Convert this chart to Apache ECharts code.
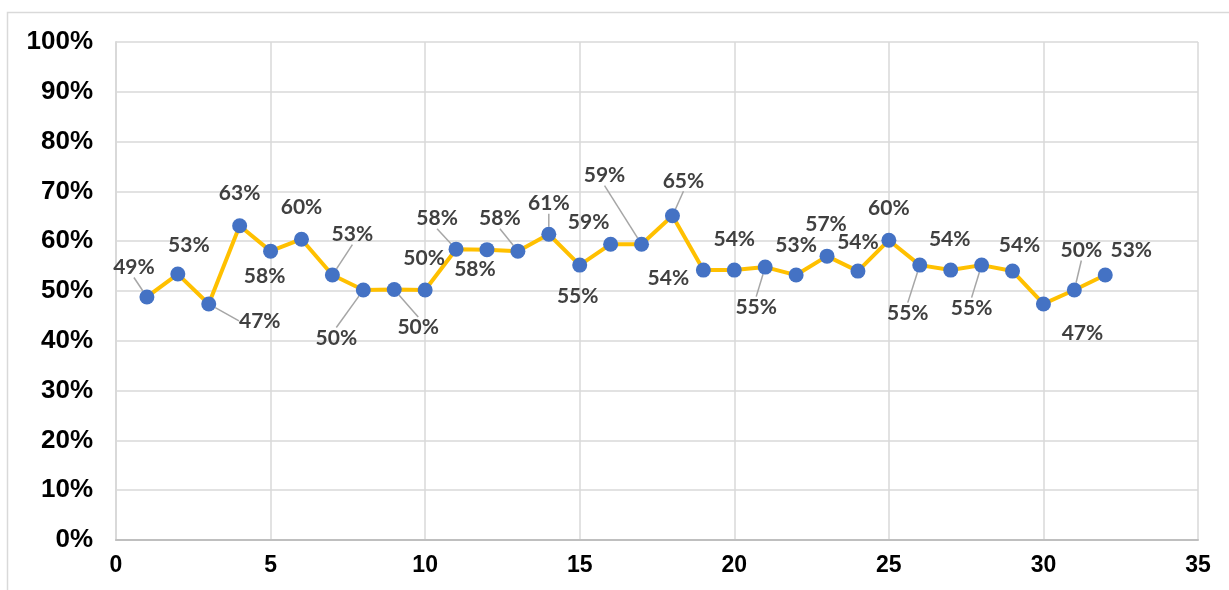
<!DOCTYPE html>
<html>
<head>
<meta charset="utf-8">
<script src="https://cdn.jsdelivr.net/npm/echarts@6/dist/echarts.min.js"></script>
<style>
  html, body { margin: 0; padding: 0; background: #ffffff; }
  #chart { width: 1229px; height: 590px; }
</style>
</head>
<body>
<div id="chart"></div>
<script>
// Sample number on the x axis
const xValues = [1, 2, 3, 4, 5, 6, 7, 8, 9, 10, 11, 12, 13, 14, 15, 16,
                 17, 18, 19, 20, 21, 22, 23, 24, 25, 26, 27, 28, 29, 30, 31, 32];
// Share per sample (fraction of 1)
const shareValues = [0.488, 0.534, 0.474, 0.631, 0.580, 0.604, 0.532, 0.502,
                     0.503, 0.502, 0.584, 0.583, 0.580, 0.614, 0.552, 0.594,
                     0.594, 0.651, 0.542, 0.542, 0.548, 0.532, 0.570, 0.540,
                     0.602, 0.552, 0.542, 0.552, 0.540, 0.474, 0.502, 0.532];
// Tick labels
const yTickValues = [0, 0.1, 0.2, 0.3, 0.4, 0.5, 0.6, 0.7, 0.8, 0.9, 1.0];
const xTickValues = [0, 5, 10, 15, 20, 25, 30, 35];

// Where each value label sits, relative to its point (px), and whether it gets a leader line
const labelOffsets = [[-13, -30], [11, -29], [51, 17], [0, -33], [-6, 25], [0, -32],
                      [20, -41], [-27, 48], [24, 38], [-1, -32], [-19, -31], [-12, 20],
                      [-18, -33], [0, -31], [-2, 31], [-22, -22], [-37, -69], [11, -35],
                      [-35, 8], [0, -31], [-9, 40], [0, -30], [-1, -32], [0, -29],
                      [0, -32], [-12, 48], [-1, -31], [-10, 43], [7, -26], [39, 29],
                      [7, -40], [26, -25]];
const leaderShown = [true, false, true, false, false, false, true, true, true, false,
                     true, false, true, true, false, false, true, true, false, false,
                     true, false, false, false, false, true, false, true, false, false,
                     true, false];

const pct = v => Math.round(v * 100) + '%';

const seriesData = xValues.map((x, i) => ({
  value: [x, shareValues[i]],
  labelLine: { show: leaderShown[i] }
}));

const chart = echarts.init(document.getElementById('chart'), null, { renderer: 'canvas' });

chart.setOption({
  animation: false,
  backgroundColor: '#ffffff',
  graphic: [{
    type: 'rect',
    silent: true,
    z: -10,
    shape: { x: 7.5, y: 12.5, width: 1240, height: 620 },
    style: { fill: 'none', stroke: '#d9d9d9', lineWidth: 1.5 }
  }],
  grid: { left: 116, right: 31, top: 42, bottom: 50, containLabel: false },
  xAxis: {
    type: 'value',
    min: xTickValues[0],
    max: xTickValues[xTickValues.length - 1],
    interval: 5,
    axisLine: { show: true, lineStyle: { color: '#bfbfbf', width: 2 } },
    axisTick: { show: false },
    splitLine: { show: true, lineStyle: { color: '#d9d9d9', width: 1.5 } },
    axisLabel: {
      margin: 14,
      color: '#000000',
      fontFamily: 'Liberation Sans, Arial, sans-serif',
      fontWeight: 'bold',
      fontSize: 23
    }
  },
  yAxis: {
    type: 'value',
    min: yTickValues[0],
    max: yTickValues[yTickValues.length - 1],
    interval: 0.1,
    axisLine: { show: true, lineStyle: { color: '#d9d9d9', width: 2 } },
    axisTick: { show: false },
    splitLine: { show: true, lineStyle: { color: '#d9d9d9', width: 1.5 } },
    axisLabel: {
      margin: 23,
      color: '#000000',
      fontFamily: 'Liberation Sans, Arial, sans-serif',
      fontWeight: 'bold',
      fontSize: 26,
      formatter: v => pct(v)
    }
  },
  series: [{
    type: 'line',
    data: seriesData,
    symbol: 'circle',
    symbolSize: 15,
    lineStyle: { color: '#ffc000', width: 4 },
    itemStyle: { color: '#4472c4' },
    z: 3,
    label: {
      show: true,
      position: 'inside',
      color: '#404040',
      fontFamily: 'Lato, Noto Sans, sans-serif',
      fontWeight: 'bold',
      fontSize: 21,
      formatter: p => pct(p.value[1])
    },
    labelLine: {
      show: true,
      lineStyle: { color: '#a6a6a6', width: 1.5 }
    },
    labelLayout: p => ({
      dx: labelOffsets[p.dataIndex][0],
      dy: labelOffsets[p.dataIndex][1]
    })
  }]
});
</script>
</body>
</html>
